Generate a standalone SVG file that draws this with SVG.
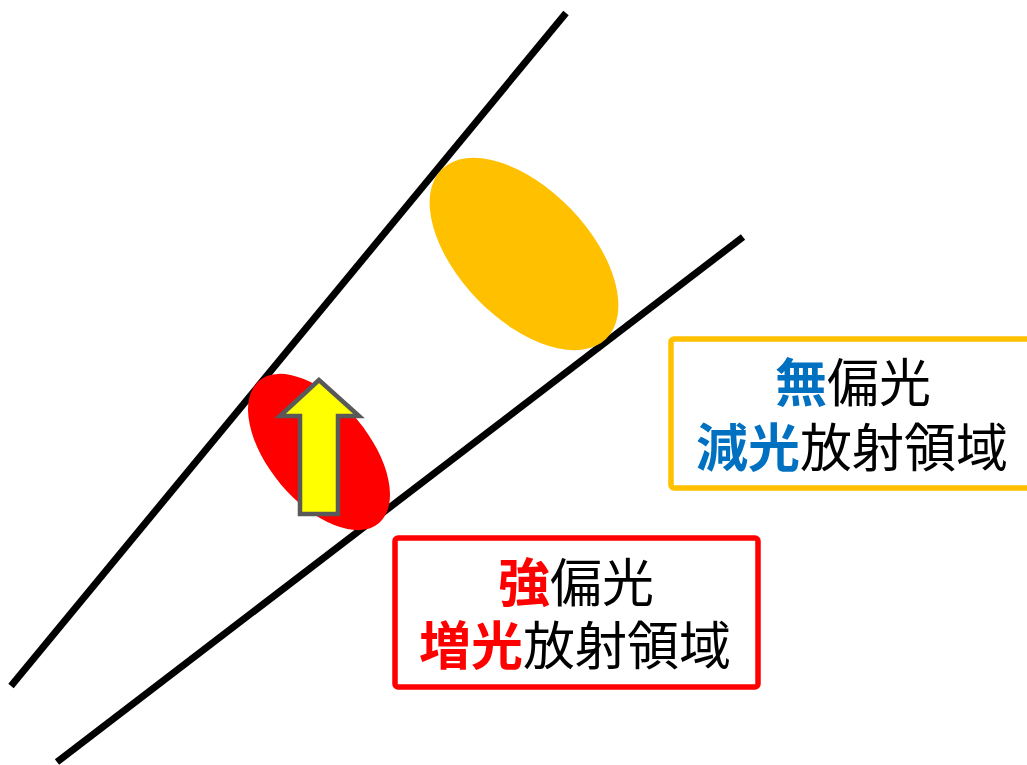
<svg xmlns="http://www.w3.org/2000/svg" width="1027" height="765" viewBox="0 0 1027 765">
<style>
.ln{stroke:#000;stroke-width:7;fill:none}
.t{font-family:"Noto Sans CJK JP","Noto Sans CJK SC",sans-serif;font-size:52px;text-anchor:middle;fill:#000}
.b{font-weight:bold}
</style>
<rect width="1027" height="765" fill="#fff"/>
<g id="connectors">
<line class="ln" x1="11" y1="686" x2="566" y2="13"/>
<line class="ln" x1="57" y1="762" x2="743" y2="237"/>
</g>
<g id="orange-spot"><ellipse cx="524" cy="254" rx="118" ry="65" transform="rotate(46 524 254)" fill="#FFC000"/></g>
<g id="red-spot"><ellipse cx="319" cy="452" rx="93" ry="50" transform="rotate(50 319 452)" fill="#FF0000"/></g>
<g id="arrow"><path d="M319,380 L280,416 L300,416 L300,514 L338,514 L338,416 L359,416 Z" fill="#FFFF00" stroke="#595959" stroke-width="4.5" stroke-linejoin="miter"/></g>
<g id="orange-box">
<rect x="671" y="339" width="370" height="149" rx="3" fill="#fff" stroke="#FFC000" stroke-width="5.5"/>
<text class="t" x="853" y="402"><tspan class="b" fill="#0070C0">無</tspan>偏光</text>
<text class="t" x="852" y="467"><tspan class="b" fill="#0070C0">減光</tspan>放射領域</text>
</g>
<g id="red-box">
<rect x="395" y="538" width="363" height="149" rx="3" fill="#fff" stroke="#FF0000" stroke-width="5.5"/>
<text class="t" x="576" y="602"><tspan class="b" fill="#FF0000">強</tspan>偏光</text>
<text class="t" x="575" y="665"><tspan class="b" fill="#FF0000">増光</tspan>放射領域</text>
</g>
</svg>
